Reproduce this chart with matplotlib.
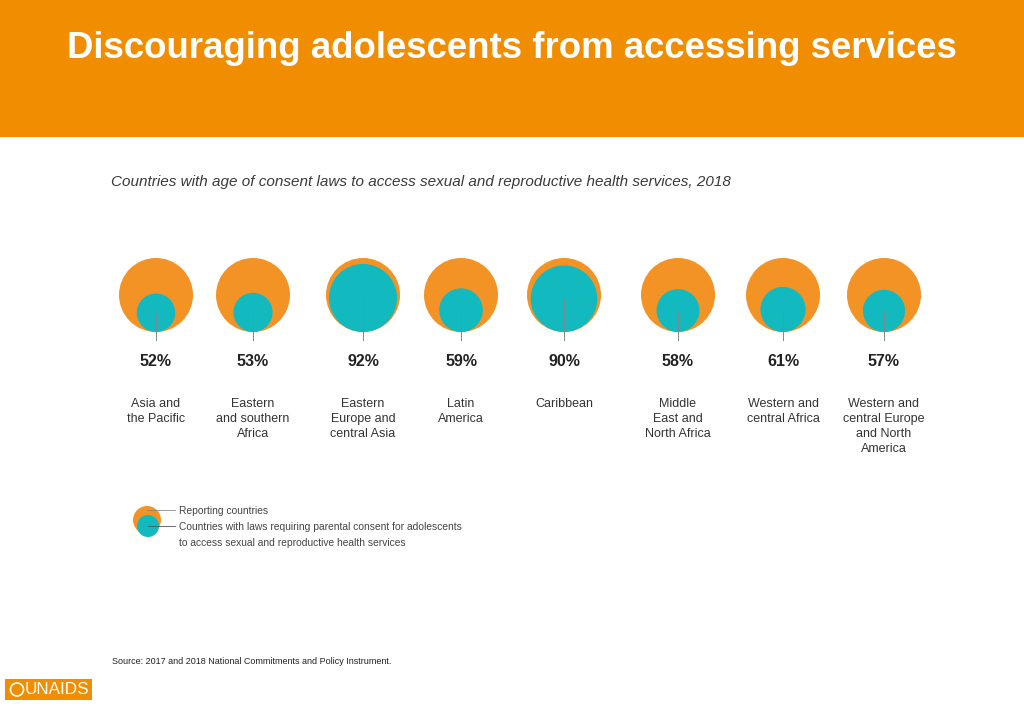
import matplotlib.pyplot as plt
from matplotlib.patches import Circle, Rectangle

# data
regions = ["Asia and\nthe Pacific", "Eastern\nand southern\nAfrica", "Eastern\nEurope and\ncentral Asia",
           "Latin\nAmerica", "Caribbean", "Middle\nEast and\nNorth Africa", "Western and\ncentral Africa",
           "Western and\ncentral Europe\nand North\nAmerica"]
pct = [52, 53, 92, 59, 90, 58, 61, 57]

title = "Discouraging adolescents from accessing services"
subtitle = "Countries with age of consent laws to access sexual and reproductive health services, 2018"
source = "Source: 2017 and 2018 National Commitments and Policy Instrument."

# layout (pixels)
xc = [156, 253, 363, 461, 564, 678, 783, 884]
R = 37
cy = 295
orange = "#F39325"
teal = "#12BAC0"
header = "#F18D00"

plt.rcParams['font.family'] = ['Liberation Sans', 'DejaVu Sans']

fig = plt.figure(figsize=(10.24, 7.09), dpi=100)
ax = fig.add_axes([0, 0, 1, 1])
ax.set_xlim(0, 1024)
ax.set_ylim(709, 0)
ax.axis('off')

# header
ax.add_patch(Rectangle((0, 0), 1024, 137, color=header, lw=0))
ax.text(512, 49, title, color='white', fontsize=26.4, fontweight='bold', ha='center', va='center')

ax.text(111, 182, subtitle, fontsize=10.95, style='italic', color='#3a3a3a', ha='left', va='center')

for x, p, name in zip(xc, pct, regions):
    r = R * p / 100
    ax.add_patch(Circle((x, cy), R, color=orange, lw=0))
    ax.add_patch(Circle((x, cy + R - r), r, color=teal, lw=0))
    ax.plot([x, x], [cy + R - r, 340], color='#7a8a8a', lw=0.7)
    ax.text(x, 361, f"{p}%", fontsize=11.5, fontweight='bold', ha='center', va='center', color='#222222')
    ax.text(x, 398, name, fontsize=9, ha='center', va='top', color='#333333', linespacing=1.32)

# legend
ax.add_patch(Circle((147, 520), 14, color=orange, lw=0))
ax.add_patch(Circle((148, 526), 11, color=teal, lw=0))
ax.plot([147, 175], [510, 510], color='#888888', lw=0.6)
ax.plot([148, 175], [526, 526], color='#555555', lw=0.6)
ax.text(179, 511, "Reporting countries", fontsize=7.4, va='center', color='#444444')
ax.text(179, 527, "Countries with laws requiring parental consent for adolescents", fontsize=7.4,
        va='center', color='#444444')
ax.text(179, 543, "to access sexual and reproductive health services", fontsize=7.4,
        va='center', color='#444444')

ax.text(112, 661, source, fontsize=6.45, va='center', color='#222222')

# logo
ax.add_patch(Rectangle((5, 679), 87, 21, color=header, lw=0))
ax.add_patch(Circle((17, 689.5), 6.5, fill=False, ec='white', lw=1.2))
ax.text(25, 690, "UNAIDS", color='white', fontsize=12.3, va='center', ha='left')

fig.savefig("out.png", dpi=100)
